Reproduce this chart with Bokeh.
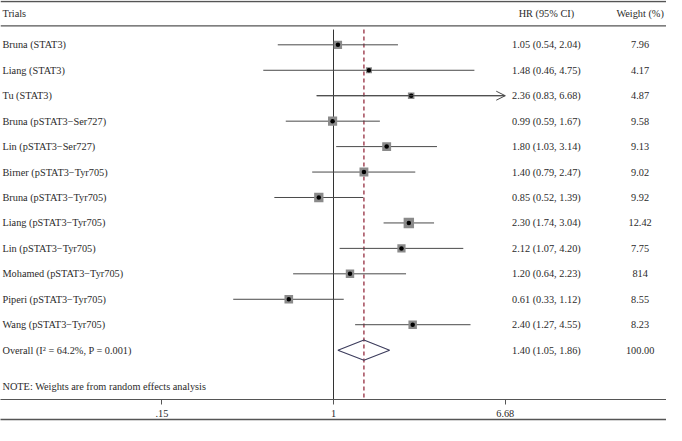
import math
from bokeh.plotting import figure
from bokeh.models import (Range1d, ColumnDataSource, FixedTicker, LogAxis, Span, Arrow,
                          OpenHead, LinearScale)
from bokeh.core.properties import value
from bokeh.embed import file_html
from bokeh.resources import INLINE

# ---------------- data ----------------
trials = ["Bruna (STAT3)", "Liang (STAT3)", "Tu (STAT3)",
          "Bruna (pSTAT3\u2212Ser727)", "Lin (pSTAT3\u2212Ser727)",
          "Birner (pSTAT3\u2212Tyr705)", "Bruna (pSTAT3\u2212Tyr705)",
          "Liang (pSTAT3\u2212Tyr705)", "Lin (pSTAT3\u2212Tyr705)",
          "Mohamed (pSTAT3\u2212Tyr705)", "Piperi (pSTAT3\u2212Tyr705)",
          "Wang (pSTAT3\u2212Tyr705)"]
hr = [1.05, 1.48, 2.36, 0.99, 1.80, 1.40, 0.85, 2.30, 2.12, 1.20, 0.61, 2.40]
ci_low = [0.54, 0.46, 0.83, 0.59, 1.03, 0.79, 0.52, 1.74, 1.07, 0.64, 0.33, 1.27]
ci_high = [2.04, 4.75, 6.68, 1.67, 3.14, 2.47, 1.39, 3.04, 4.20, 2.23, 1.12, 4.55]
weights = [7.96, 4.17, 4.87, 9.58, 9.13, 9.02, 9.92, 12.42, 7.75, 8.14, 8.55, 8.23]
weight_labels = ["7.96", "4.17", "4.87", "9.58", "9.13", "9.02", "9.92",
                 "12.42", "7.75", "814", "8.55", "8.23"]

overall_label = "Overall (I\u00b2 = 64.2%, P = 0.001)"
overall_hr, overall_low, overall_high = 1.40, 1.05, 1.86
overall_weight = "100.00"

tick_values = [0.15, 1, 6.68]
tick_labels = [".15", "1", "6.68"]

header = ["Trials", "HR (95% CI)", "Weight (%)"]
note = "NOTE: Weights are from random effects analysis"

# ---------------- layout constants ----------------
FONT = "Liberation Serif"
FS = "10.3px"
TXT = "#2b2b2b"
W, H = 666, 425
clip_max = max(tick_values)

rows = list(range(len(trials)))
ov_row = len(trials)

p = figure(width=W, height=H, output_backend="svg", toolbar_location=None,
           x_axis_type="log", y_axis_location=None,
           x_range=Range1d(math.exp(-3.682), math.exp(3.682)),
           y_range=Range1d(13.939, -1.742),
           min_border_left=0, min_border_right=0, min_border_top=0,
           min_border_bottom=26)
p.extra_x_ranges = {"px": Range1d(0, 682)}
p.extra_x_scales = {"px": LinearScale()}
p.grid.visible = False
p.outline_line_color = None
p.background_fill_color = "white"
p.border_fill_color = "white"

# main axis
ax = p.xaxis[0]
ax.ticker = FixedTicker(ticks=tick_values)
ax.major_label_overrides = {v: l for v, l in zip(tick_values, tick_labels)}
ax.major_tick_out = 5
ax.major_tick_in = 0
ax.minor_tick_line_color = None
ax.minor_tick_out = 0
ax.major_label_standoff = 5
ax.axis_line_color = "#555555"
ax.axis_line_width = 1.2
ax.major_tick_line_color = "#555555"
ax.major_label_text_font = FONT
ax.major_label_text_font_size = FS
ax.major_label_text_color = TXT

# bottom rule as a second (bare) axis
ax2 = LogAxis(ticker=FixedTicker(ticks=[]), major_tick_out=0, major_tick_in=0,
              minor_tick_out=0, minor_tick_in=0,
              minor_tick_line_color=None, major_label_text_font_size="0px",
              major_label_standoff=0,
              axis_line_color="#555555", axis_line_width=1.4)
p.add_layout(ax2, "below")

# horizontal rules
p.add_layout(Span(location=-1.705, dimension="width", line_color="#555555", line_width=1.4))
p.add_layout(Span(location=-0.746, dimension="width", line_color="#555555", line_width=1.4))

# reference lines
p.segment(x0=[1], y0=[-0.6], x1=[1], y1=[15], line_color="#333333", line_width=1)
p.segment(x0=[overall_hr], y0=[-0.6], x1=[overall_hr], y1=[15],
          line_color="#8b1a2e", line_width=1.2, line_dash="4 3")

# CI lines
src = ColumnDataSource(dict(
    y=rows, hr=hr, lo=ci_low, hi=[min(h, clip_max) for h in ci_high],
    size=[2.95 * math.sqrt(w) for w in weights],
    label=trials,
    hrtxt=[f"{h:.2f} ({l:.2f}, {u:.2f})" for h, l, u in zip(hr, ci_low, ci_high)],
    wtxt=weight_labels,
))
p.segment(x0="lo", y0="y", x1="hi", y1="y", source=src, line_color="#4a4a4a", line_width=1)

# arrows for clipped CIs
arr = ColumnDataSource(dict(
    x0=[l for l, h in zip(ci_low, ci_high) if h >= clip_max],
    x1=[clip_max for h in ci_high if h >= clip_max],
    y=[r for r, h in zip(rows, ci_high) if h >= clip_max],
))
p.add_layout(Arrow(end=OpenHead(size=9, line_color="#4a4a4a", line_width=1),
                   x_start="x0", y_start="y", x_end="x1", y_end="y", source=arr,
                   line_color="#4a4a4a", line_width=1))

# weight boxes and points
p.scatter(x="hr", y="y", size="size", marker="square", source=src,
          fill_color="#8a8a8a", line_color=None)
p.scatter(x="hr", y="y", size=4.5, marker="circle", source=src,
          fill_color="black", line_color=None)

# overall diamond
h = 0.4
p.patch(x=[overall_low, overall_hr, overall_high, overall_hr],
        y=[ov_row, ov_row - h, ov_row, ov_row + h],
        fill_color=None, line_color="#3c3c5c", line_width=1.1)

# texts
common = dict(x_range_name="px", text_font=value(FONT), text_font_size=FS,
              text_color=TXT, text_baseline="middle")
p.text(x=2, y="y", text="label", source=src, text_align="left", **common)
p.text(x=559, y="y", text="hrtxt", source=src, text_align="center", **common)
p.text(x=655, y="y", text="wtxt", source=src, text_align="center", **common)

p.text(x=[2], y=[ov_row], text=[overall_label], text_align="left", **common)
p.text(x=[559], y=[ov_row],
       text=[f"{overall_hr:.2f} ({overall_low:.2f}, {overall_high:.2f})"],
       text_align="center", **common)
p.text(x=[655], y=[ov_row], text=[overall_weight], text_align="center", **common)

p.text(x=[2], y=[-1.212], text=[header[0]], text_align="left", **common)
p.text(x=[559], y=[-1.212], text=[header[1]], text_align="center", **common)
p.text(x=[655], y=[-1.212], text=[header[2]], text_align="center", **common)
p.text(x=[2], y=[13.41], text=[note], text_align="left", **common)

open("out.html", "w").write(file_html(p, INLINE))
